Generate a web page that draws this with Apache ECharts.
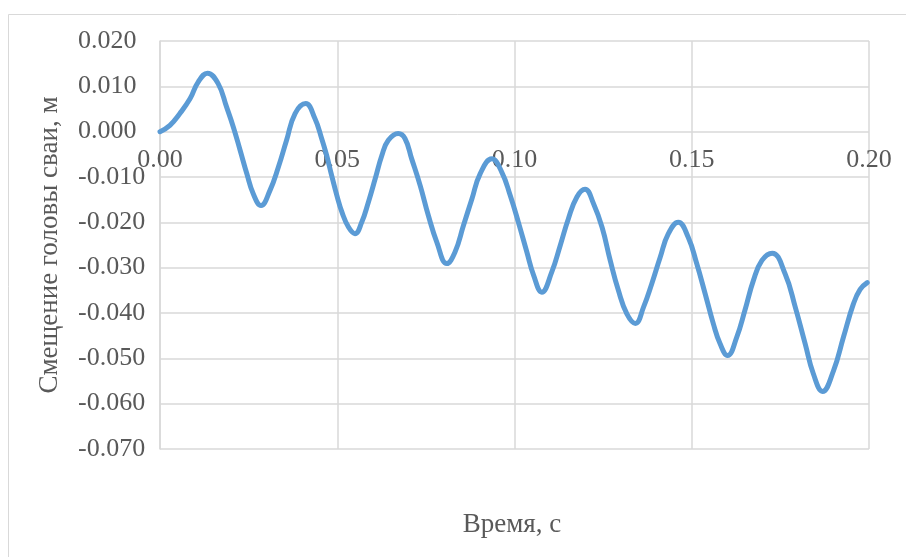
<!DOCTYPE html>
<html>
<head>
<meta charset="utf-8">
<script src="https://cdn.jsdelivr.net/npm/echarts@6/dist/echarts.min.js"></script>
<style>
html,body{margin:0;padding:0;background:#fff;}
#c{width:906px;height:557px;}
</style>
</head>
<body>
<div id="c"></div>
<script>
// Time, s
const time = [
  0.0000, 0.0028, 0.0056, 0.0085, 0.0108, 0.0134, 0.0164, 0.0188, 0.0207, 0.0226,
  0.0245, 0.0263, 0.0285, 0.0310, 0.0334, 0.0357, 0.0381, 0.0411, 0.0437, 0.0456,
  0.0470, 0.0484, 0.0499, 0.0513, 0.0532, 0.0550, 0.0569, 0.0588, 0.0607, 0.0626,
  0.0644, 0.0672, 0.0691, 0.0710, 0.0734, 0.0757, 0.0781, 0.0809, 0.0832, 0.0856,
  0.0880, 0.0903, 0.0936, 0.0964, 0.0988, 0.1011, 0.1035, 0.1054, 0.1077, 0.1105,
  0.1129, 0.1152, 0.1176, 0.1199, 0.1223, 0.1247, 0.1270, 0.1293, 0.1317, 0.1341,
  0.1364, 0.1387, 0.1411, 0.1434, 0.1462, 0.1490, 0.1514, 0.1538, 0.1561, 0.1580,
  0.1601, 0.1627, 0.1650, 0.1674, 0.1698, 0.1727, 0.1763, 0.1792, 0.1820, 0.1843,
  0.1869, 0.1900, 0.1928, 0.1956, 0.1975, 0.1995
];
// Pile head displacement, m
const displacement = [
  0.0000, 0.0014, 0.0040, 0.0073, 0.0110, 0.0129, 0.0106, 0.0054, 0.0010, -0.0041,
  -0.0093, -0.0137, -0.0163, -0.0130, -0.0078, -0.0019, 0.0040, 0.0062, 0.0029, -0.0015,
  -0.0052, -0.0096, -0.0141, -0.0177, -0.0211, -0.0225, -0.0200, -0.0155, -0.0104, -0.0052,
  -0.0019, -0.0004, -0.0015, -0.0060, -0.0119, -0.0185, -0.0244, -0.0291, -0.0266, -0.0207,
  -0.0148, -0.0093, -0.0060, -0.0089, -0.0141, -0.0200, -0.0266, -0.0317, -0.0354, -0.0310,
  -0.0251, -0.0192, -0.0144, -0.0127, -0.0159, -0.0211, -0.0284, -0.0350, -0.0402, -0.0423,
  -0.0387, -0.0336, -0.0277, -0.0225, -0.0200, -0.0233, -0.0291, -0.0358, -0.0424, -0.0468,
  -0.0494, -0.0453, -0.0394, -0.0328, -0.0284, -0.0268, -0.0313, -0.0387, -0.0468, -0.0534,
  -0.0573, -0.0527, -0.0453, -0.0380, -0.0348, -0.0333
];
const xTitle = 'Время, с';
const yTitle = 'Смещение головы сваи, м';

const FONT = '"Liberation Serif", "Times New Roman", serif';
const TXT = '#595959';
const GRID = '#D9D9D9';

const G_TOP = 41, G_BOTTOM = 108, H = 557;
const Y_MIN = -0.07, Y_MAX = 0.02;
const plotH = H - G_TOP - G_BOTTOM;
// move the x axis (and its labels) up to the y = 0 line
const zeroOffset = -plotH * (0 - Y_MIN) / (Y_MAX - Y_MIN);

const chart = echarts.init(document.getElementById('c'), null, {renderer: 'canvas'});
const points = time.map((t, i) => [t, displacement[i]]);

chart.setOption({
  backgroundColor: '#ffffff',
  animation: false,
  grid: {left: 160, right: 37, top: G_TOP, bottom: G_BOTTOM, containLabel: false},
  xAxis: {
    type: 'value', min: 0, max: 0.2, interval: 0.05,
    position: 'bottom', offset: zeroOffset,
    axisLine: {show: false, onZero: false},
    axisTick: {show: false},
    splitLine: {show: true, lineStyle: {color: GRID, width: 1.5}},
    axisLabel: {
      color: TXT, fontFamily: FONT, fontSize: 26, margin: 16,
      formatter: v => v.toFixed(2)
    }
  },
  yAxis: {
    type: 'value', min: Y_MIN, max: Y_MAX, interval: 0.01,
    axisLine: {show: true, lineStyle: {color: GRID, width: 1.5}},
    axisTick: {show: false},
    splitLine: {show: true, lineStyle: {color: GRID, width: 1.5}},
    axisLabel: {
      color: TXT, fontFamily: FONT, fontSize: 26, margin: 82, align: 'left',
      formatter: v => (Math.round(v * 1000) / 1000).toFixed(3)
    }
  },
  series: [{
    type: 'line',
    data: points,
    smooth: 0.45,
    symbol: 'none',
    lineStyle: {color: '#5B9BD5', width: 5, cap: 'round', join: 'round'}
  }],
  graphic: [
    {type: 'rect', silent: true, z: -1,
     shape: {x: 8.5, y: 14.5, width: 1000, height: 1000},
     style: {fill: 'none', stroke: GRID, lineWidth: 1}},
    {type: 'text', x: 512, y: 525,
     style: {text: xTitle, fill: TXT, font: '27px ' + FONT, textAlign: 'center', textVerticalAlign: 'middle'}},
    {type: 'text', x: 50, y: 245, rotation: Math.PI / 2,
     style: {text: yTitle, fill: TXT, font: '27px ' + FONT, textAlign: 'center', textVerticalAlign: 'middle'}}
  ]
});
</script>
</body>
</html>
